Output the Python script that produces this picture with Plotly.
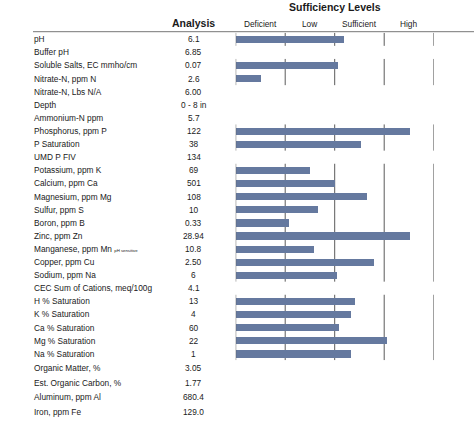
import plotly.graph_objects as go

# ---------------- data ----------------
rows_main = [
    "pH", "Buffer pH", "Soluble Salts, EC mmho/cm", "Nitrate-N, ppm N", "Nitrate-N, Lbs N/A",
    "Depth", "Ammonium-N ppm", "Phosphorus, ppm P", "P Saturation", "UMD P FIV",
    "Potassium, ppm K", "Calcium, ppm Ca", "Magnesium, ppm Mg", "Sulfur, ppm S", "Boron, ppm B",
    "Zinc, ppm Zn", "Manganese, ppm Mn", "Copper, ppm Cu", "Sodium, ppm Na",
    "CEC Sum of Cations, meq/100g", "H % Saturation", "K % Saturation", "Ca % Saturation",
    "Mg % Saturation", "Na % Saturation",
]
analysis_main = [
    "6.1", "6.85", "0.07", "2.6", "6.00", "0 - 8 in", "5.7", "122", "38", "134",
    "69", "501", "108", "10", "0.33", "28.94", "10.8", "2.50", "6", "4.1",
    "13", "4", "60", "22", "1",
]
# sufficiency score in level units (0 = start of Deficient, 4 = end of High)
sufficiency = [
    2.19, None, 2.07, 0.51, None, None, None, 3.51, 2.52, None,
    1.50, 2.00, 2.64, 1.66, 1.07, 3.51, 1.58, 2.79, 2.04, None,
    2.41, 2.33, 2.09, 3.06, 2.33,
]
rows_extra = ["Organic Matter, %", "Est. Organic Carbon, %", "Aluminum, ppm Al", "Iron, ppm Fe"]
analysis_extra = ["3.05", "1.77", "680.4", "129.0"]
levels = ["Deficient", "Low", "Sufficient", "High"]
notes = {"Manganese, ppm Mn": "pH sensitive"}

# ---------------- styling ----------------
W, H = 474, 423
FONT = "Liberation Sans, Arial, Helvetica, sans-serif"
TXT = "#1a1a1a"
BAR = "#65799f"
GRID = "#5a5a5a"
FS = 8.3

def px_x(p):
    return p / W

def px_y(p):
    return 1 - p / H

fig = go.Figure()

fig.add_trace(go.Bar(
    x=sufficiency, y=rows_main, orientation="h", width=0.55,
    marker=dict(color=BAR, line=dict(width=0)),
    hoverinfo="skip", showlegend=False,
))

annotations = []
shapes = []

# text columns
for name, val in zip(rows_main, analysis_main):
    label = name
    if name in notes:
        label = name + " <span style='font-size:4.3px'>" + notes[name] + "</span>"
    annotations.append(dict(x=px_x(32), y=name, xref="paper", yref="y", text=label,
                            showarrow=False, xanchor="left", yanchor="middle",
                            font=dict(size=FS, color=TXT, family=FONT)))
    annotations.append(dict(x=px_x(193.5), y=name, xref="paper", yref="y", text=val,
                            showarrow=False, xanchor="center", yanchor="middle",
                            font=dict(size=FS, color=TXT, family=FONT)))
for name, val in zip(rows_extra, analysis_extra):
    annotations.append(dict(x=px_x(32), y=name, xref="paper", yref="y2", text=name,
                            showarrow=False, xanchor="left", yanchor="middle",
                            font=dict(size=FS, color=TXT, family=FONT)))
    annotations.append(dict(x=px_x(193.5), y=name, xref="paper", yref="y2", text=val,
                            showarrow=False, xanchor="center", yanchor="middle",
                            font=dict(size=FS, color=TXT, family=FONT)))

# headers
annotations.append(dict(x=px_x(193.3), y=px_y(22.7), xref="paper", yref="paper",
                        text="<b>Analysis</b>", showarrow=False, xanchor="center", yanchor="middle",
                        font=dict(size=10.5, color=TXT, family=FONT)))
annotations.append(dict(x=px_x(334.7), y=px_y(7.5), xref="paper", yref="paper",
                        text="<b>Sufficiency Levels</b>", showarrow=False, xanchor="center",
                        yanchor="middle", font=dict(size=10.5, color=TXT, family=FONT)))
for i, lv in enumerate(levels):
    annotations.append(dict(x=i + 0.5, y=px_y(24), xref="x", yref="paper", text=lv,
                            showarrow=False, xanchor="center", yanchor="middle",
                            font=dict(size=FS, color=TXT, family=FONT)))

# header rule
shapes.append(dict(type="line", xref="paper", yref="paper", x0=px_x(33), x1=1,
                   y0=px_y(31.7), y1=px_y(31.7), line=dict(color="#777777", width=1)))

# level grid segments, only where rows carry a bar
runs = []
start = None
for i, v in enumerate(sufficiency + [None]):
    if v is not None and start is None:
        start = i
    elif v is None and start is not None:
        runs.append((start, i - 1))
        start = None
for a, b in runs:
    for k in range(len(levels) + 1):
        shapes.append(dict(type="line", xref="x", yref="y", x0=k, x1=k,
                           y0=a - 0.5, y1=b + 0.5, layer="above" if k == 0 else "below",
                           line=dict(color=GRID, width=1)))

hidden = dict(visible=False, showgrid=False, zeroline=False, showline=False,
              showticklabels=False, ticks="", fixedrange=True)
fig.update_layout(
    width=W, height=H,
    margin=dict(l=0, r=0, t=0, b=0),
    paper_bgcolor="white", plot_bgcolor="rgba(0,0,0,0)",
    bargap=0,
    xaxis=dict(domain=[px_x(235.7), px_x(433.7)], range=[0, 4], **hidden),
    yaxis=dict(domain=[px_y(360.25), px_y(32.75)], range=[24.5, -0.5], type="category",
               categoryorder="array", categoryarray=rows_main, **hidden),
    yaxis2=dict(domain=[px_y(419.7), px_y(360.25)], range=[3.5, -0.5], type="category",
                categoryorder="array", categoryarray=rows_extra, anchor="x", **hidden),
    annotations=annotations,
    shapes=shapes,
    font=dict(family=FONT, color=TXT),
)

fig.write_html("out.html", config={"displayModeBar": False},
               post_script="document.body.style.margin='0';document.body.style.overflow='hidden';")
